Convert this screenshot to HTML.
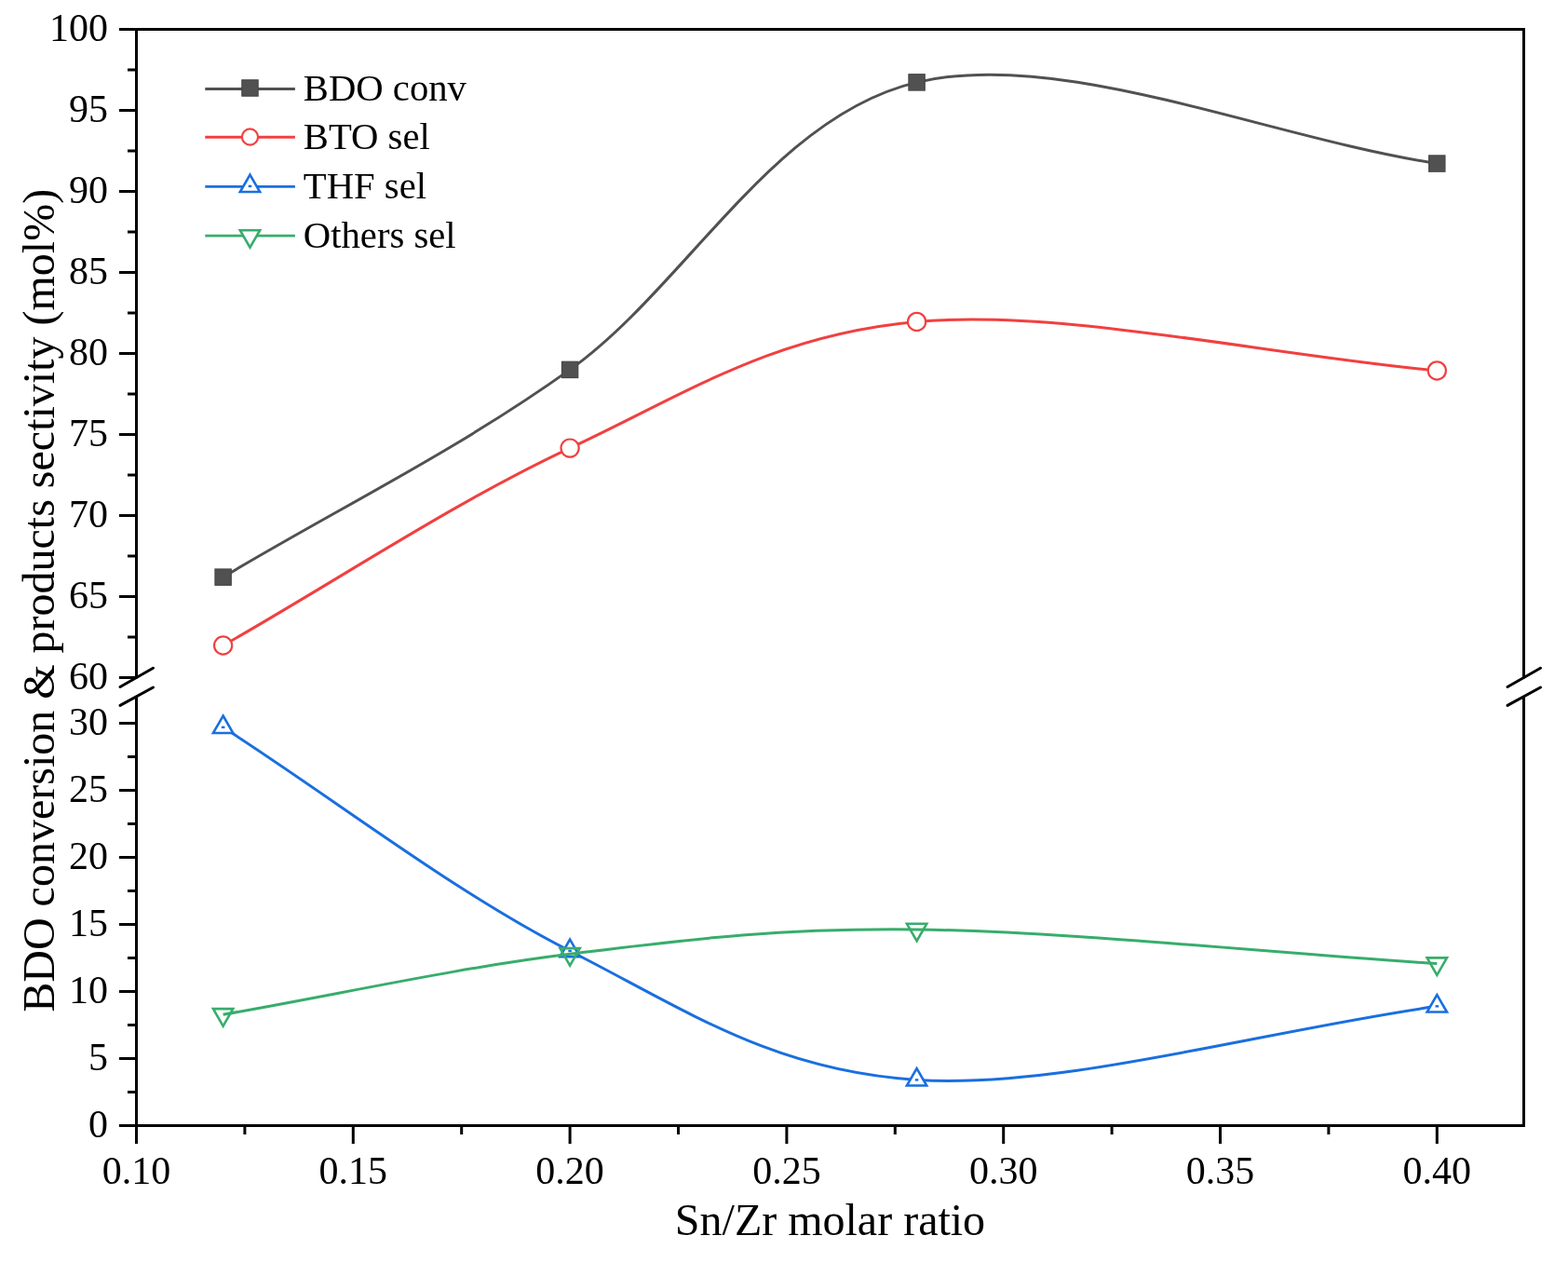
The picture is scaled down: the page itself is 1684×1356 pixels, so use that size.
<!DOCTYPE html>
<html><head><meta charset="utf-8"><title>Chart</title>
<style>html,body{margin:0;padding:0;background:#fff;width:1684px;height:1356px;overflow:hidden}svg{display:block}</style>
</head><body>
<svg width="1684" height="1356" viewBox="0 0 1684 1356">
<rect width="1684" height="1356" fill="#fff"/>
<path d="M146.5,727.0 V31.5 H1636.5 V727.0 M146.5,748.5 V1208.5 H1636.5 V748.5" stroke="#000" stroke-width="3" fill="none" stroke-linecap="square"/>
<path d="M128,727.50 H146.5 M128,640.50 H146.5 M128,553.50 H146.5 M128,466.50 H146.5 M128,379.50 H146.5 M128,292.50 H146.5 M128,205.50 H146.5 M128,118.50 H146.5 M128,31.50 H146.5 M137,684.00 H146.5 M137,597.00 H146.5 M137,510.00 H146.5 M137,423.00 H146.5 M137,336.00 H146.5 M137,249.00 H146.5 M137,162.00 H146.5 M137,75.00 H146.5 M128,1208.50 H146.5 M128,1136.50 H146.5 M128,1064.50 H146.5 M128,992.50 H146.5 M128,920.50 H146.5 M128,848.50 H146.5 M128,776.50 H146.5 M137,1172.50 H146.5 M137,1100.50 H146.5 M137,1028.50 H146.5 M137,956.50 H146.5 M137,884.50 H146.5 M137,812.50 H146.5 M146.50,1208.5 V1228 M379.30,1208.5 V1228 M612.10,1208.5 V1228 M844.90,1208.5 V1228 M1077.70,1208.5 V1228 M1310.50,1208.5 V1228 M1543.30,1208.5 V1228 M262.90,1208.5 V1218 M495.70,1208.5 V1218 M728.50,1208.5 V1218 M961.30,1208.5 V1218 M1194.10,1208.5 V1218 M1426.90,1208.5 V1218" stroke="#000" stroke-width="3" fill="none"/>
<path d="M129.0,737.5 L164.5,717.3 M129.0,757.4 L164.5,738" stroke="#000" stroke-width="3" fill="none" stroke-linecap="round"/>
<path d="M1619.0,737.5 L1654.5,717.3 M1619.0,757.4 L1654.5,738" stroke="#000" stroke-width="3" fill="none" stroke-linecap="round"/>
<g font-family="'Liberation Serif','Times New Roman',serif" font-size="42" fill="#000"><text x="116" y="739.7" text-anchor="end">60</text><text x="116" y="652.7" text-anchor="end">65</text><text x="116" y="565.7" text-anchor="end">70</text><text x="116" y="478.7" text-anchor="end">75</text><text x="116" y="391.7" text-anchor="end">80</text><text x="116" y="304.7" text-anchor="end">85</text><text x="116" y="217.7" text-anchor="end">90</text><text x="116" y="130.7" text-anchor="end">95</text><text x="116" y="43.7" text-anchor="end">100</text><text x="116" y="1220.5" text-anchor="end">0</text><text x="116" y="1148.5" text-anchor="end">5</text><text x="116" y="1076.5" text-anchor="end">10</text><text x="116" y="1004.5" text-anchor="end">15</text><text x="116" y="932.5" text-anchor="end">20</text><text x="116" y="860.5" text-anchor="end">25</text><text x="116" y="788.5" text-anchor="end">30</text><text x="146.5" y="1271" text-anchor="middle">0.10</text><text x="379.3" y="1271" text-anchor="middle">0.15</text><text x="612.1" y="1271" text-anchor="middle">0.20</text><text x="844.9" y="1271" text-anchor="middle">0.25</text><text x="1077.7" y="1271" text-anchor="middle">0.30</text><text x="1310.5" y="1271" text-anchor="middle">0.35</text><text x="1543.3" y="1271" text-anchor="middle">0.40</text></g>
<text x="891.5" y="1326.4" text-anchor="middle" font-family="'Liberation Serif','Times New Roman',serif" font-size="48" fill="#000">Sn/Zr molar ratio</text>
<text transform="translate(58.1,644.8) rotate(-90)" text-anchor="middle" font-family="'Liberation Serif','Times New Roman',serif" font-size="48" fill="#000">BDO conversion &amp; products sectivity (mol%)</text>
<path d="M239.62,619.62 C363.78,545.38 487.94,485.44 612.10,396.90 C736.26,308.36 829.38,125.29 984.58,88.40 C1139.78,51.51 1357.06,146.51 1543.30,175.57" stroke="#515151" stroke-width="3" fill="none" stroke-linejoin="round"/>
<path d="M239.62,693.05 C363.78,622.40 487.94,539.06 612.10,481.12 C736.26,423.17 829.38,359.26 984.58,345.40 C1139.78,331.53 1357.06,380.43 1543.30,397.94" stroke="#F14040" stroke-width="3" fill="none" stroke-linejoin="round"/>
<path d="M239.62,780.82 C363.78,860.88 487.94,957.92 612.10,1021.01 C736.26,1084.11 829.38,1149.51 984.58,1159.40 C1139.78,1169.28 1357.06,1106.69 1543.30,1080.34" stroke="#1A6FDF" stroke-width="3" fill="none" stroke-linejoin="round"/>
<rect x="230.97" y="610.97" width="17.30" height="17.30" fill="#515151" stroke="#474747" stroke-width="1.2"/>
<rect x="603.45" y="388.25" width="17.30" height="17.30" fill="#515151" stroke="#474747" stroke-width="1.2"/>
<rect x="975.93" y="79.75" width="17.30" height="17.30" fill="#515151" stroke="#474747" stroke-width="1.2"/>
<rect x="1534.65" y="166.92" width="17.30" height="17.30" fill="#515151" stroke="#474747" stroke-width="1.2"/>
<circle cx="239.62" cy="693.05" r="9.6" fill="#fff" stroke="#F14040" stroke-width="2.2"/>
<circle cx="612.10" cy="481.12" r="9.6" fill="#fff" stroke="#F14040" stroke-width="2.2"/>
<circle cx="984.58" cy="345.40" r="9.6" fill="#fff" stroke="#F14040" stroke-width="2.2"/>
<circle cx="1543.30" cy="397.94" r="9.6" fill="#fff" stroke="#F14040" stroke-width="2.2"/>
<path d="M239.62,768.52 L250.27,786.97 L228.97,786.97 Z" fill="#fff" stroke="#1A6FDF" stroke-width="2.6" stroke-linejoin="miter"/><rect x="237.82" y="779.62" width="3.6" height="2.4" fill="#1A6FDF"/>
<path d="M612.10,1008.71 L622.75,1027.16 L601.45,1027.16 Z" fill="#fff" stroke="#1A6FDF" stroke-width="2.6" stroke-linejoin="miter"/><rect x="610.30" y="1019.81" width="3.6" height="2.4" fill="#1A6FDF"/>
<path d="M984.58,1147.10 L995.23,1165.55 L973.93,1165.55 Z" fill="#fff" stroke="#1A6FDF" stroke-width="2.6" stroke-linejoin="miter"/><rect x="982.78" y="1158.20" width="3.6" height="2.4" fill="#1A6FDF"/>
<path d="M1543.30,1068.04 L1553.95,1086.49 L1532.65,1086.49 Z" fill="#fff" stroke="#1A6FDF" stroke-width="2.6" stroke-linejoin="miter"/><rect x="1541.50" y="1079.14" width="3.6" height="2.4" fill="#1A6FDF"/>
<path d="M239.62,1089.27 C363.78,1067.62 487.94,1039.54 612.10,1024.32 C736.26,1009.11 829.38,996.27 984.58,997.97 C1139.78,999.68 1357.06,1022.36 1543.30,1034.55" stroke="#37AD6B" stroke-width="3" fill="none" stroke-linejoin="round"/>
<path d="M239.62,1101.57 L250.27,1083.12 L228.97,1083.12 Z" fill="none" stroke="#37AD6B" stroke-width="2.6" stroke-linejoin="miter"/>
<path d="M612.10,1036.62 L622.75,1018.17 L601.45,1018.17 Z" fill="none" stroke="#37AD6B" stroke-width="2.6" stroke-linejoin="miter"/>
<path d="M984.58,1010.27 L995.23,991.82 L973.93,991.82 Z" fill="none" stroke="#37AD6B" stroke-width="2.6" stroke-linejoin="miter"/>
<path d="M1543.30,1046.85 L1553.95,1028.40 L1532.65,1028.40 Z" fill="none" stroke="#37AD6B" stroke-width="2.6" stroke-linejoin="miter"/>
<path d="M220.3,95.5 H316.9" stroke="#515151" stroke-width="2.9"/>
<rect x="259.85" y="85.85" width="17.30" height="17.30" fill="#515151" stroke="#474747" stroke-width="1.2"/>
<text x="325.8" y="108.3" font-family="'Liberation Serif','Times New Roman',serif" font-size="40.7" fill="#000">BDO conv</text>
<path d="M220.3,147.3 H316.9" stroke="#F14040" stroke-width="2.9"/>
<circle cx="268.50" cy="147.00" r="8.6" fill="#fff" stroke="#F14040" stroke-width="2.2"/>
<text x="325.8" y="160.1" font-family="'Liberation Serif','Times New Roman',serif" font-size="40.7" fill="#000">BTO sel</text>
<path d="M220.3,200.4 H316.9" stroke="#1A6FDF" stroke-width="2.9"/>
<path d="M268.50,187.60 L279.15,206.05 L257.85,206.05 Z" fill="#fff" stroke="#1A6FDF" stroke-width="2.6" stroke-linejoin="miter"/><rect x="266.70" y="198.70" width="3.6" height="2.4" fill="#1A6FDF"/>
<text x="325.8" y="213.2" font-family="'Liberation Serif','Times New Roman',serif" font-size="40.7" fill="#000">THF sel</text>
<path d="M220.3,253.1 H316.9" stroke="#37AD6B" stroke-width="2.9"/>
<path d="M268.50,265.70 L279.15,247.25 L257.85,247.25 Z" fill="#fff" stroke="#37AD6B" stroke-width="2.6" stroke-linejoin="miter"/>
<text x="325.8" y="265.9" font-family="'Liberation Serif','Times New Roman',serif" font-size="40.7" fill="#000">Others sel</text>
</svg>
</body></html>
